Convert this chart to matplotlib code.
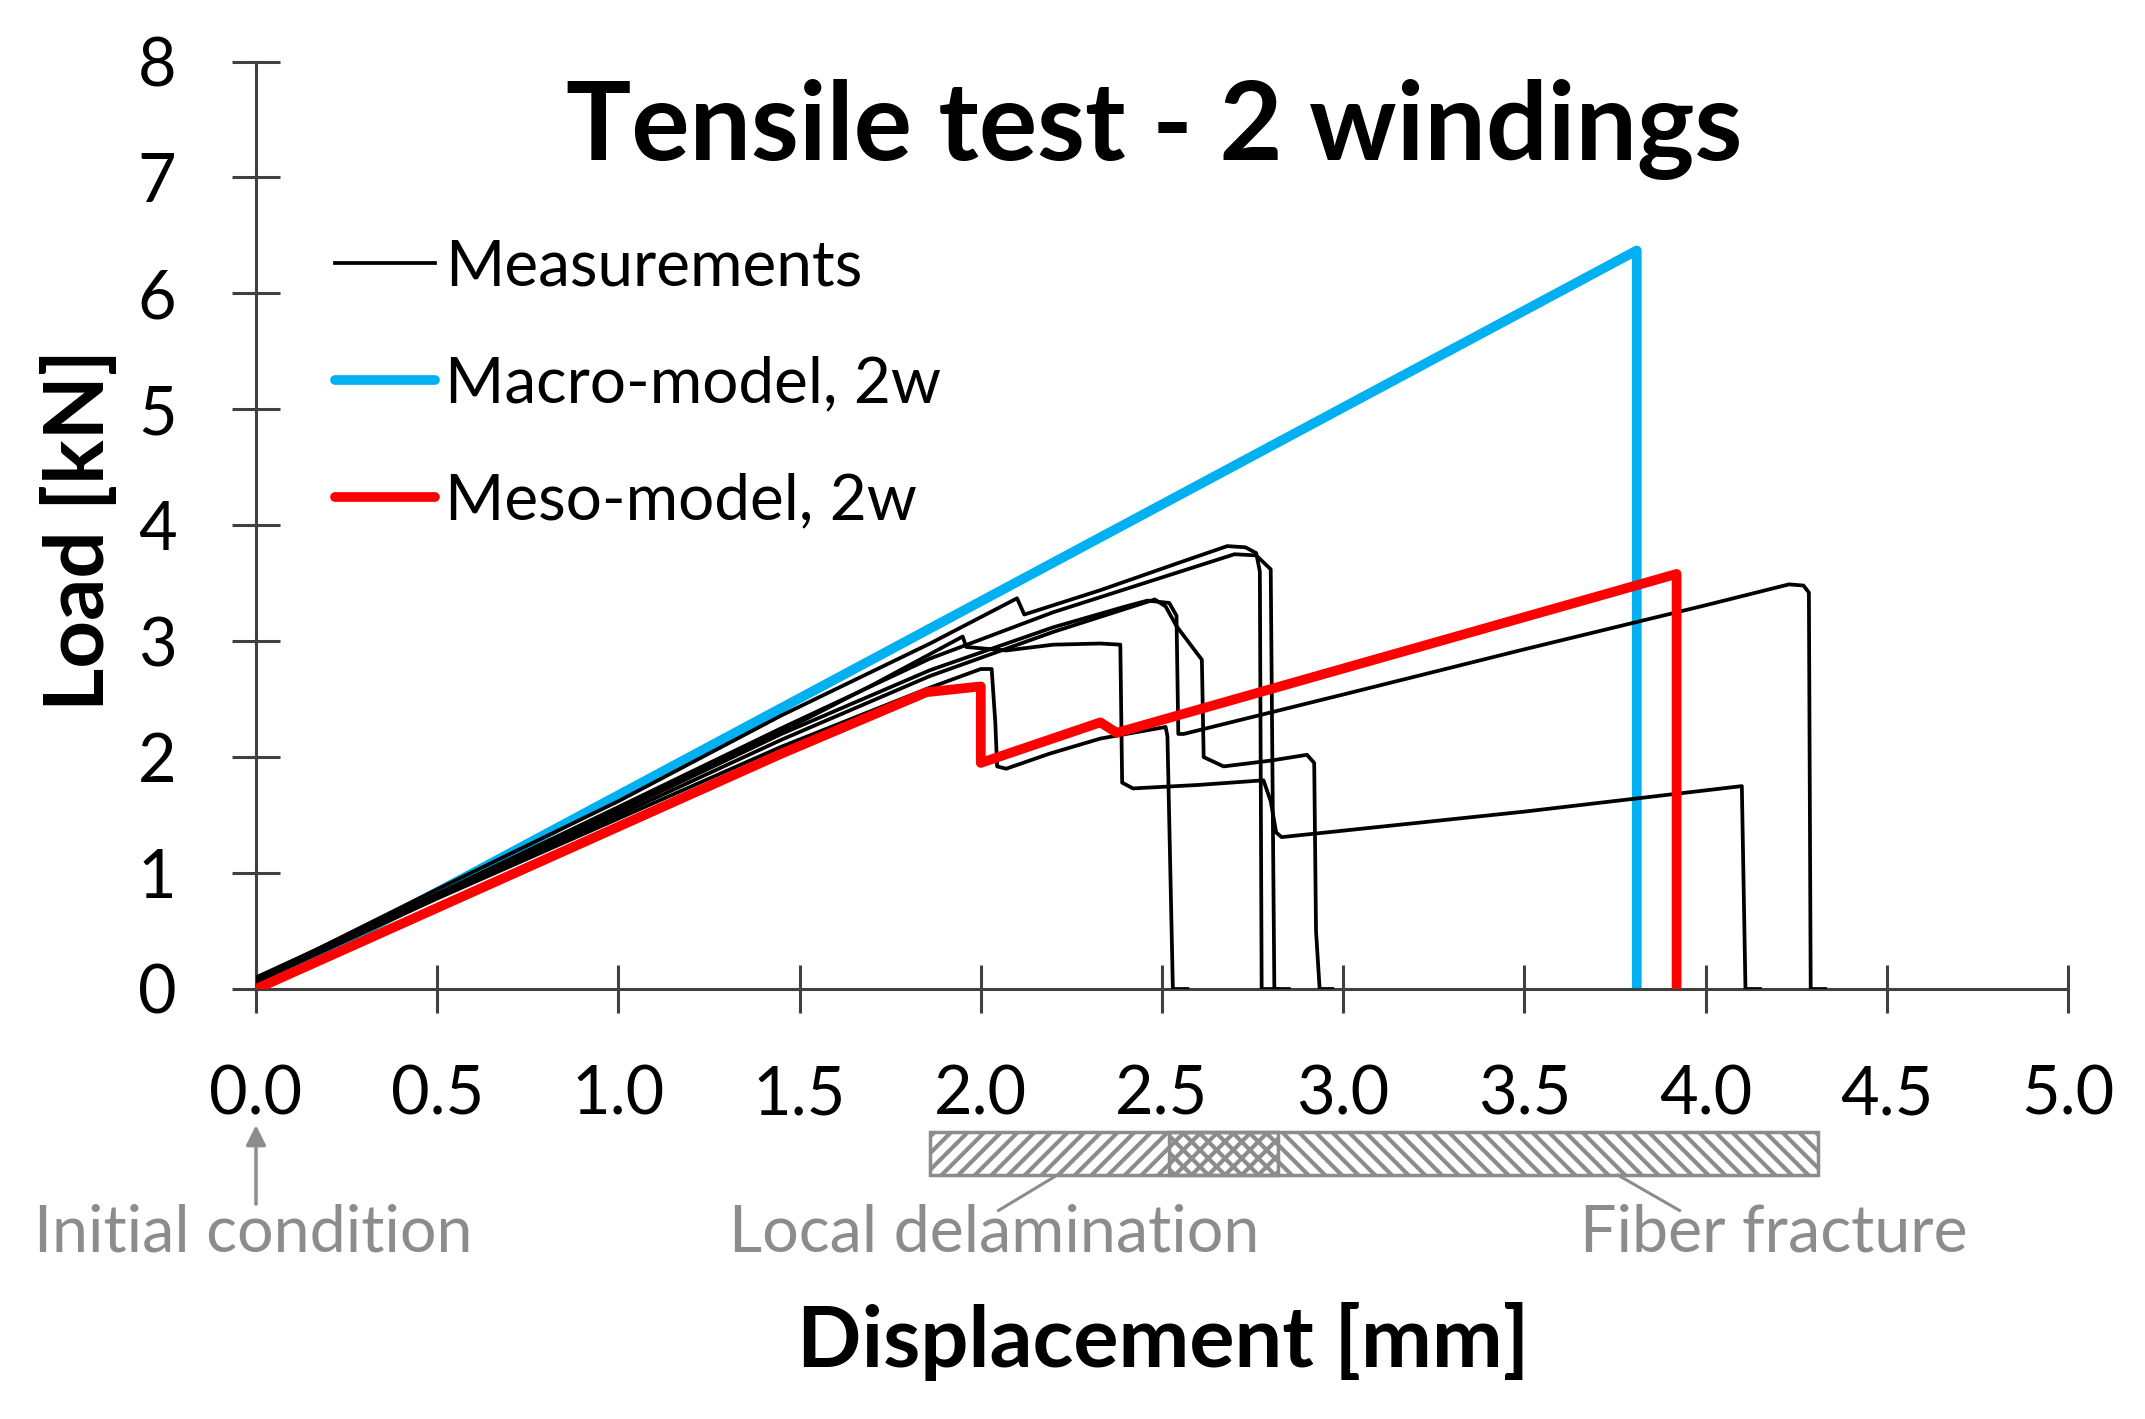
import matplotlib
matplotlib.use("Agg")
import matplotlib.pyplot as plt
from matplotlib.patches import Rectangle
from matplotlib.lines import Line2D

plt.rcParams['font.family'] = ['Lato', 'DejaVu Sans']
plt.rcParams['hatch.linewidth'] = 3.0

# ---- data (displacement in mm, load in kN) ----
macro_disp = [0.0, 3.81, 3.81]
macro_load = [0.0, 6.37, 0.0]

meso_disp = [0.0, 1.45, 1.85, 2.0, 2.0, 2.33, 2.375, 3.92, 3.92]
meso_load = [0.0, 2.03, 2.56, 2.61, 1.95, 2.30, 2.21, 3.58, 0.0]

meas1_disp = [0.0, 0.5, 1.0, 1.45, 1.86, 2.10, 2.12, 2.33, 2.55, 2.68, 2.73, 2.76, 2.77, 2.775, 2.82]
meas1_load = [0.08, 0.86, 1.62, 2.36, 2.98, 3.37, 3.23, 3.44, 3.68, 3.82, 3.81, 3.76, 3.60, 0.0, 0.0]

meas2_disp = [0.0, 0.5, 1.0, 1.45, 1.86, 2.2, 2.5, 2.70, 2.76, 2.80, 2.81, 2.85]
meas2_load = [0.06, 0.82, 1.57, 2.25, 2.85, 3.25, 3.55, 3.75, 3.74, 3.62, 0.0, 0.0]

meas3_disp = [0.0, 0.5, 1.0, 1.45, 1.86, 2.2, 2.40, 2.46, 2.52, 2.54, 2.545, 2.56,
              3.0, 3.5, 4.0, 4.23, 4.27, 4.285, 4.29, 4.33]
meas3_load = [0.08, 0.80, 1.53, 2.20, 2.75, 3.12, 3.30, 3.35, 3.33, 3.22, 2.20, 2.20,
              2.54, 2.93, 3.31, 3.49, 3.48, 3.42, 0.0, 0.0]

meas4_disp = [0.0, 0.5, 1.0, 1.45, 1.86, 2.2, 2.42, 2.48, 2.51, 2.54, 2.61, 2.615,
              2.67, 2.80, 2.90, 2.92, 2.925, 2.935, 2.97]
meas4_load = [0.07, 0.80, 1.50, 2.15, 2.70, 3.08, 3.30, 3.36, 3.30, 3.13, 2.84, 2.00,
              1.92, 1.97, 2.02, 1.95, 0.50, 0.0, 0.0]

meas5_disp = [0.0, 0.5, 1.0, 1.45, 1.7, 1.95, 1.96, 2.07, 2.2, 2.33, 2.385, 2.39, 2.42,
              2.6, 2.78, 2.80, 2.815, 2.83, 3.5, 4.10, 4.11, 4.15]
meas5_load = [0.10, 0.82, 1.55, 2.22, 2.62, 3.04, 2.95, 2.92, 2.97, 2.98, 2.97, 1.78, 1.73,
              1.76, 1.80, 1.62, 1.35, 1.31, 1.53, 1.75, 0.0, 0.0]

meas6_disp = [0.0, 0.5, 1.0, 1.45, 1.86, 2.0, 2.03, 2.04, 2.045, 2.07, 2.19, 2.33, 2.51,
              2.515, 2.53, 2.57]
meas6_load = [0.06, 0.78, 1.47, 2.09, 2.60, 2.76, 2.76, 2.30, 1.92, 1.90, 2.03, 2.16, 2.26,
              2.18, 0.0, 0.0]

measurements = [(meas1_disp, meas1_load), (meas2_disp, meas2_load), (meas3_disp, meas3_load),
                (meas4_disp, meas4_load), (meas5_disp, meas5_load), (meas6_disp, meas6_load)]

x_ticks = [0.0, 0.5, 1.0, 1.5, 2.0, 2.5, 3.0, 3.5, 4.0, 4.5, 5.0]
y_ticks = [0, 1, 2, 3, 4, 5, 6, 7, 8]

# failure-mode ranges shown under the x axis (mm)
delam_range = (1.86, 2.82)
fracture_range = (2.52, 4.31)

blue = '#00B0F0'
red = '#FF0000'
gray = '#8C8C8C'
axis_col = '#404040'

fig = plt.figure(figsize=(21.45, 14.19), dpi=100)
ax = fig.add_axes([256 / 2145, 1 - 989 / 1419, 1812 / 2145, 927.5 / 1419])

ax.plot(macro_disp, macro_load, color=blue, lw=7, zorder=2, solid_capstyle='butt')
for d, l in measurements:
    ax.plot(d, l, color='black', lw=2.7, zorder=3)
ax.plot(meso_disp, meso_load, color=red, lw=7, zorder=4, solid_capstyle='butt')

ax.set_xlim(0, 5)
ax.set_ylim(0, 8)
ax.set_xticks(x_ticks)
ax.set_xticklabels([f'{v:.1f}' for v in x_ticks])
ax.set_yticks(y_ticks)
ax.set_yticklabels([str(v) for v in y_ticks])

for s in ['top', 'right']:
    ax.spines[s].set_visible(False)
for s in ['left', 'bottom']:
    ax.spines[s].set_color(axis_col)
    ax.spines[s].set_linewidth(2.2)
ax.tick_params(axis='both', direction='inout', length=34.5, width=2.2,
               color=axis_col, labelsize=48, labelcolor='black')
ax.tick_params(axis='y', pad=40)
ax.tick_params(axis='x', pad=37)

# legend
h_meas = Line2D([], [], color='black', lw=2.7)
h_macro = Line2D([], [], color=blue, lw=7, solid_capstyle='round')
h_meso = Line2D([], [], color=red, lw=7, solid_capstyle='round')
ax.legend([h_meas, h_macro, h_meso], ['Measurements', 'Macro-model, 2w', 'Meso-model, 2w'],
          loc='upper left', bbox_to_anchor=(0.0436, 0.809), frameon=False,
          fontsize=46, handlelength=1.565, handletextpad=0.16, labelspacing=0.92,
          borderpad=0, borderaxespad=0)

# title and axis labels
fig.text(1154 / 2145, 1 - 160 / 1419, 'Tensile test - 2 windings', ha='center',
         va='baseline', fontsize=78.5, fontweight='bold')
ax.set_xlabel('Displacement [mm]', fontsize=61, fontweight='bold', va='baseline')
ax.xaxis.set_label_coords(0.5006, -0.4075)
ax.set_ylabel('Load [kN]', fontsize=60, fontweight='bold', va='center')
ax.yaxis.set_label_coords(-0.0975, 0.495)

# failure-mode bar below the axis
bar_y, bar_h = -1.605, 0.371
ax.add_patch(Rectangle((delam_range[0], bar_y), delam_range[1] - delam_range[0], bar_h,
                       fill=False, hatch='//', edgecolor=gray, lw=2.5, clip_on=False))
ax.add_patch(Rectangle((fracture_range[0], bar_y), fracture_range[1] - fracture_range[0], bar_h,
                       fill=False, hatch='\\\\', edgecolor=gray, lw=2.5, clip_on=False))

ax.annotate('', xy=(0, -1.15), xytext=(0, -1.88), annotation_clip=False,
            arrowprops=dict(arrowstyle='-|>', color=gray, lw=2.5, mutation_scale=30))
ax.plot([2.211, 2.049], [-1.605, -1.91], color=gray, lw=2.2, clip_on=False)
ax.plot([3.758, 3.928], [-1.605, -1.91], color=gray, lw=2.2, clip_on=False)

ax.text(-0.008, -2.105, 'Initial condition', ha='center', va='center', fontsize=46.5, color=gray)
ax.text(2.036, -2.105, 'Local delamination', ha='center', va='center', fontsize=46.5, color=gray)
ax.text(4.188, -2.105, 'Fiber fracture', ha='center', va='center', fontsize=46.5, color=gray)

fig.savefig('out.png', dpi=100)
